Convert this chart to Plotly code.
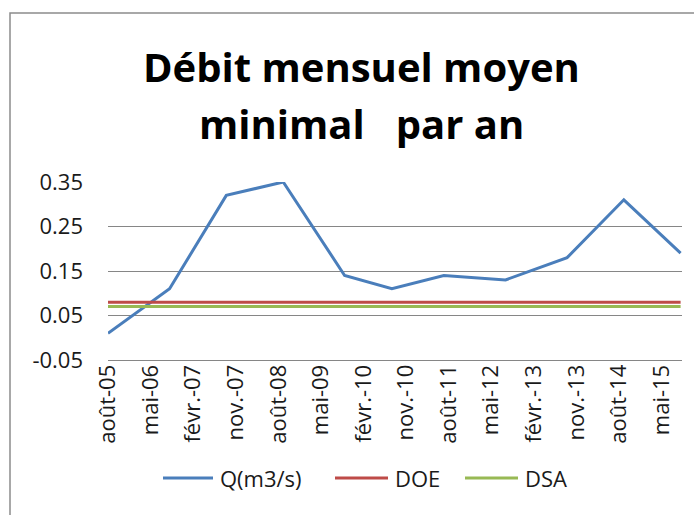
import plotly.graph_objects as go

# Minimum mean monthly discharge for each year (date of the minimum, m3/s)
dates = ["2005-08-01", "2006-09-01", "2007-09-01", "2008-09-01", "2009-10-01",
         "2010-08-01", "2011-07-01", "2012-08-01", "2013-09-01", "2014-09-01",
         "2015-09-01"]
q_values = [0.01, 0.11, 0.32, 0.35, 0.14, 0.11, 0.14, 0.13, 0.18, 0.31, 0.19]

# Reference thresholds
doe_value = 0.08
dsa_value = 0.07

series_names = ["Q(m3/s)", "DOE", "DSA"]
series_colors = ["#4A7EBB", "#BE4B48", "#98B954"]

# Axis ticks every nine months
tick_dates = ["2005-08-01", "2006-05-01", "2007-02-01", "2007-11-01", "2008-08-01",
              "2009-05-01", "2010-02-01", "2010-11-01", "2011-08-01", "2012-05-01",
              "2013-02-01", "2013-11-01", "2014-08-01", "2015-05-01"]
tick_labels = ["août-05", "mai-06", "févr.-07", "nov.-07", "août-08", "mai-09",
               "févr.-10", "nov.-10", "août-11", "mai-12", "févr.-13", "nov.-13",
               "août-14", "mai-15"]

y_ticks = [-0.05, 0.05, 0.15, 0.25, 0.35]

title_lines = ["Débit mensuel moyen", "minimal   par an"]

FONT = "Open Sans"
W, H = 694, 515
L, R, T, B = 108, 12, 182, 155
pw = W - L - R
ph = H - T - B


def px_x(p):
    return (p - L) / pw


def px_y(p):
    return (H - B - p) / ph


fig = go.Figure()
series_y = [q_values, [doe_value, doe_value], [dsa_value, dsa_value]]
series_x = [dates, [dates[0], dates[-1]], [dates[0], dates[-1]]]
for name, color, xs, ys in zip(series_names, series_colors, series_x, series_y):
    fig.add_trace(go.Scatter(x=xs, y=ys, mode="lines", name=name,
                             line=dict(color=color, width=3), showlegend=False))

# Chart-area frame
fig.add_shape(type="rect", xref="paper", yref="paper",
              x0=px_x(10), x1=px_x(720), y0=px_y(540), y1=px_y(13),
              line=dict(color="#8C8C8C", width=1.5), layer="below")

# Two-line bold title
for text, yc in zip(title_lines, [66, 123]):
    fig.add_annotation(text=f"<b>{text}</b>", xref="paper", yref="paper",
                       x=px_x(361), y=px_y(yc), xanchor="center", yanchor="middle",
                       showarrow=False,
                       font=dict(family=FONT, size=40, color="black"))

# Legend row below the axis
legend_line_x = [(163, 213), (335, 388), (465, 518)]
legend_y = 478
for name, color, (x0, x1) in zip(series_names, series_colors, legend_line_x):
    fig.add_shape(type="line", xref="paper", yref="paper",
                  x0=px_x(x0), x1=px_x(x1), y0=px_y(legend_y), y1=px_y(legend_y),
                  line=dict(color=color, width=3))
    fig.add_annotation(text=name, xref="paper", yref="paper",
                       x=px_x(x1 + 5), y=px_y(legend_y), xanchor="left",
                       yanchor="middle", showarrow=False,
                       font=dict(family=FONT, size=22, color="#1a1a1a"))

fig.update_layout(
    width=W, height=H,
    margin=dict(l=L, r=R, t=T, b=B),
    paper_bgcolor="white", plot_bgcolor="white",
    showlegend=False,
    xaxis=dict(range=["2005-08-01", "2015-09-10"], tickmode="array",
               tickvals=tick_dates, ticktext=tick_labels, tickangle=-90,
               tickfont=dict(family=FONT, size=22, color="#1a1a1a"),
               showgrid=False, showline=True, linecolor="#868686", linewidth=1,
               ticks="", ticklabelstandoff=-5, zeroline=False),
    yaxis=dict(range=[-0.05, 0.35], tickmode="array", tickvals=y_ticks,
               ticktext=[f"{v:.2f}" for v in y_ticks],
               tickfont=dict(family=FONT, size=22, color="#1a1a1a"),
               showgrid=True, gridcolor="#868686", gridwidth=1,
               zeroline=False, showline=False, ticklabelstandoff=24),
)

fig.write_html("out.html")
